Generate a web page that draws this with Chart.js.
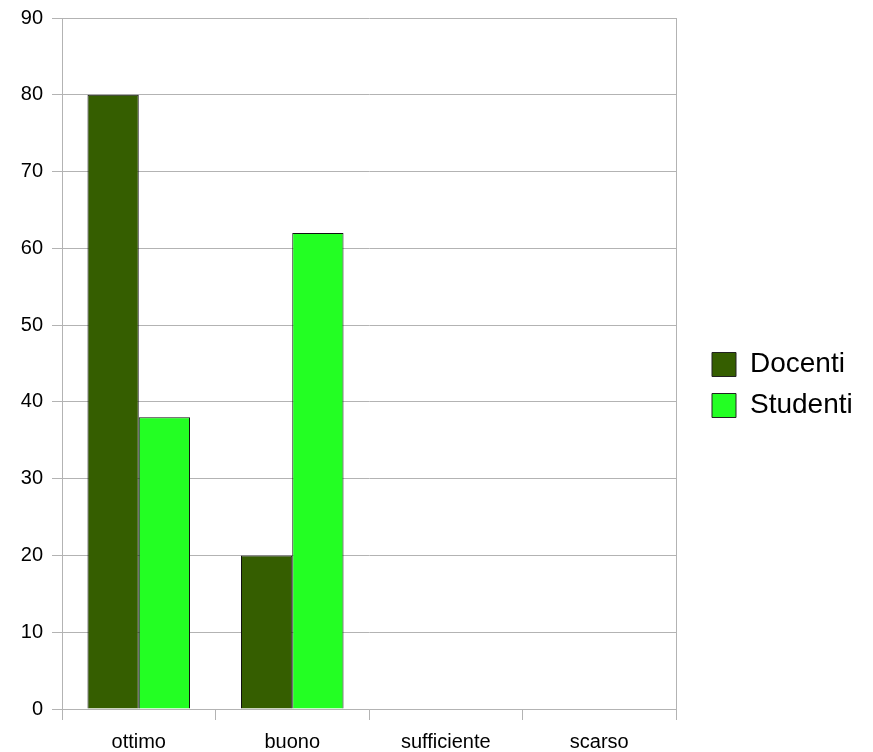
<!DOCTYPE html>
<html>
<head>
<meta charset="utf-8">
<script src="https://cdn.jsdelivr.net/npm/chart.js@4/dist/chart.umd.min.js"></script>
<style>
  html, body { margin: 0; padding: 0; background: #fff; }
  #wrap { width: 873px; height: 752px; }
</style>
</head>
<body>
<div id="wrap"><canvas id="chart" width="873" height="752"></canvas></div>
<script>
const categories = ['ottimo', 'buono', 'sufficiente', 'scarso'];
const docenti = [80, 20, 0, 0];
const studenti = [38, 62, 0, 0];

const gridColor = '#b3b3b3';
const fontFamily = '"Liberation Sans", Arial, sans-serif';

// legend gets a fixed width so the plot ends where the reference does
const legendWidthFix = {
    id: 'legendWidthFix',
    afterInit(chart) {
        const legend = chart.legend;
        if (!legend) return;
        const origFit = legend.fit;
        legend.fit = function () {
            origFit.call(this);
            this.width = 174;
        };
    }
};

const ctx = document.getElementById('chart').getContext('2d');

const chart = new Chart(ctx, {
    type: 'bar',
    data: {
        labels: categories,
        datasets: [{
            label: 'Docenti',
            data: docenti,
            backgroundColor: '#355e00',
            borderColor: '#111111',
            borderWidth: 1,
            categoryPercentage: 0.668,
            barPercentage: 1.0
        }, {
            label: 'Studenti',
            data: studenti,
            backgroundColor: '#23ff23',
            borderColor: '#111111',
            borderWidth: 1,
            categoryPercentage: 0.668,
            barPercentage: 1.0
        }]
    },
    plugins: [legendWidthFix],
    options: {
        responsive: false,
        animation: false,
        layout: {
            padding: { left: 0, top: 18, right: 0, bottom: 0 }
        },
        plugins: {
            tooltip: { enabled: false },
            legend: {
                position: 'right',
                labels: {
                    color: '#000',
                    font: { family: fontFamily, size: 28 },
                    boxWidth: 24,
                    boxHeight: 24,
                    padding: 13,
                    generateLabels: (c) => c.data.datasets.map((ds, i) => ({
                        text: ds.label,
                        fillStyle: ds.backgroundColor,
                        strokeStyle: '#222',
                        lineWidth: 1,
                        datasetIndex: i
                    }))
                }
            }
        },
        scales: {
            x: {
                grid: {
                    offset: true,
                    drawOnChartArea: false,
                    color: gridColor,
                    tickLength: 11
                },
                border: { color: gridColor },
                ticks: {
                    color: '#000',
                    font: { family: fontFamily, size: 20 },
                    padding: 10,
                    maxRotation: 0
                },
                afterFit: (s) => { s.height = 43; }
            },
            y: {
                min: 0,
                max: 90,
                grid: {
                    color: gridColor,
                    tickLength: 10
                },
                border: { color: gridColor },
                ticks: {
                    stepSize: 10,
                    color: '#000',
                    font: { family: fontFamily, size: 20 },
                    padding: 9
                },
                afterFit: (s) => {
                    s.width = 62;
                    s.paddingTop = 0;
                    s.paddingBottom = 0;
                }
            },
            yRight: {
                position: 'right',
                min: 0,
                max: 90,
                grid: { drawOnChartArea: false, drawTicks: false },
                border: { color: gridColor },
                ticks: { display: false },
                afterFit: (s) => { s.width = 23; }
            }
        }
    }
});
</script>
</body>
</html>
